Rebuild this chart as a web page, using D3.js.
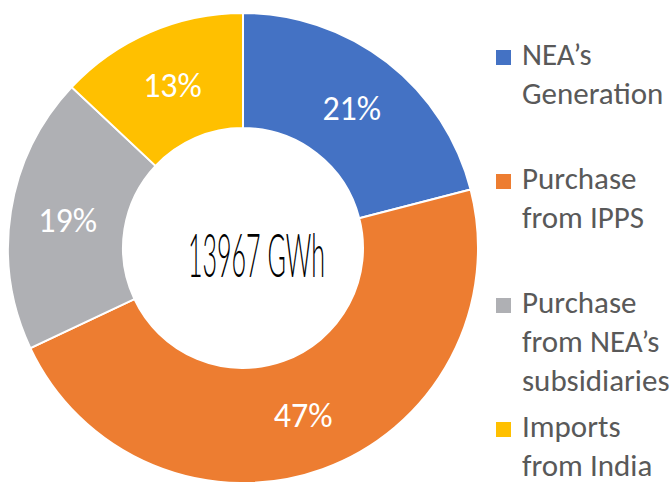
<!DOCTYPE html>
<html>
<head>
<meta charset="utf-8">
<script src="https://cdn.jsdelivr.net/npm/d3@7"></script>
<style>
  body { margin: 0; background: #fff; }
  #chart { width: 672px; height: 484px; }
</style>
</head>
<body>
<div id="chart"></div>
<script>
// data
var categories = ['NEA’s Generation', 'Purchase from IPPS', 'Purchase from NEA’s subsidiaries', 'Imports from India']
var legendLines = [['NEA’s', 'Generation'], ['Purchase', 'from IPPS'], ['Purchase', 'from NEA’s', 'subsidiaries'], ['Imports', 'from India']]
var shares = [21, 47, 19, 13]
var colors = ['#4472c4', '#ed7d31', '#afb0b4', '#ffc000']
var totalLabel = '13967 GWh'

var width = 672, height = 484
var cx = 243, cy = 248
var outerR = 235, innerR = 120
var font = 'Carlito, Calibri, Lato, sans-serif'

var svg = d3.select('#chart')
  .append('svg')
  .attr('width', width)
  .attr('height', height)

var pie = d3.pie().sort(null).value(d => d)
var arc = d3.arc().innerRadius(innerR).outerRadius(outerR)
var arcs = pie(shares)

var g = svg.append('g')
  .attr('transform', 'translate(' + cx + ',' + cy + ')')

g.selectAll('path')
  .data(arcs)
  .enter()
  .append('path')
  .attr('d', arc)
  .style('fill', (d, i) => colors[i])
  .style('stroke', '#fff')
  .style('stroke-width', 2)

// percent labels
g.selectAll('text.pct')
  .data(arcs)
  .enter()
  .append('text')
  .attr('class', 'pct')
  .attr('x', d => arc.centroid(d)[0])
  .attr('y', d => arc.centroid(d)[1] + 12)
  .attr('text-anchor', 'middle')
  .style('font-family', font)
  .style('font-size', '34px')
  .style('font-weight', 300)
  .style('fill', '#fff')
  .text(d => d.data + '%')

// total in the hole
g.append('text')
  .attr('x', 188 - cx)
  .attr('y', 277 - cy)
  .attr('textLength', 137)
  .attr('lengthAdjust', 'spacingAndGlyphs')
  .style('font-family', 'Lato, sans-serif')
  .style('font-weight', 300)
  .style('font-size', '62px')
  .style('fill', '#000')
  .text(totalLabel)

// legend
var legend = svg.append('g')
  .selectAll('g')
  .data(categories)
  .enter()
  .append('g')
  .attr('transform', (d, i) => 'translate(496,' + (65 + i * 124) + ')')

legend.append('rect')
  .attr('x', 0)
  .attr('y', -15)
  .attr('width', 15)
  .attr('height', 15)
  .style('fill', (d, i) => colors[i])

legend.append('text')
  .attr('x', 26)
  .attr('y', 0)
  .style('font-family', font)
  .style('font-size', '31px')
  .style('fill', '#595959')
  .selectAll('tspan')
  .data((d, i) => legendLines[i])
  .enter()
  .append('tspan')
  .attr('x', 26)
  .attr('dy', (d, j) => j === 0 ? 0 : 39)
  .text(d => d)
</script>
</body>
</html>
